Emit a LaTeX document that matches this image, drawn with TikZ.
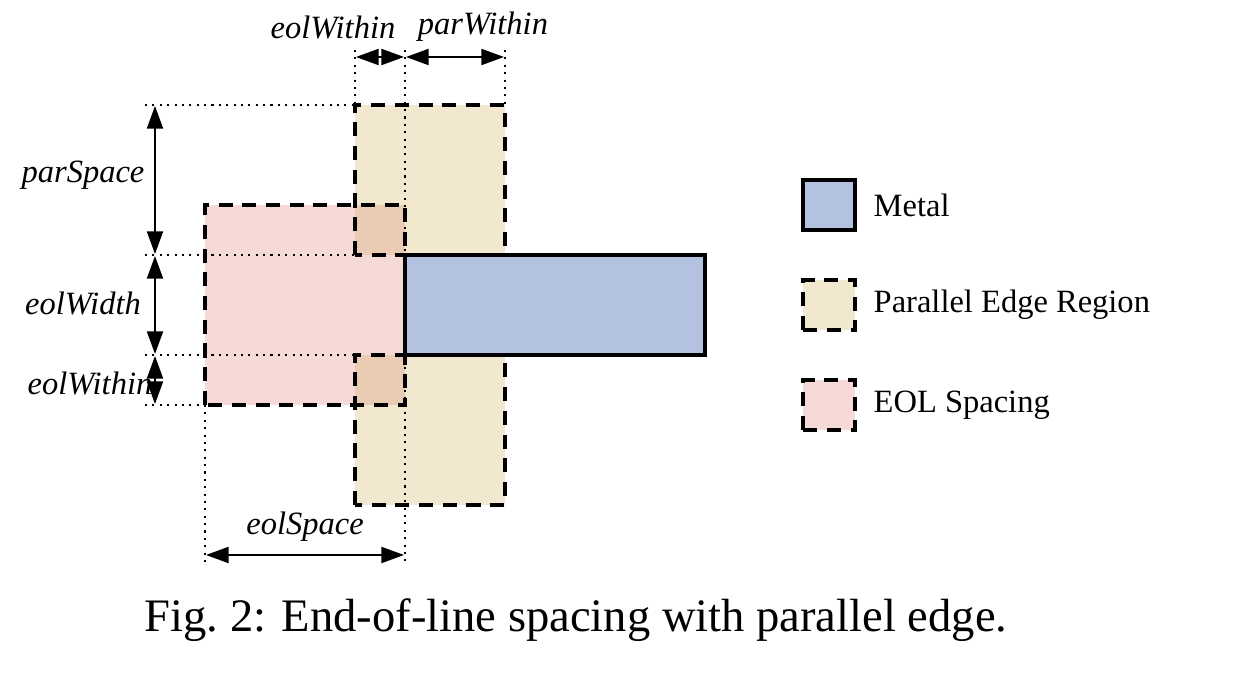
\documentclass[tikz,border=0pt]{standalone}
\usepackage{fontspec}
\setmainfont{Liberation Serif}
\usetikzlibrary{arrows.meta, calc}
\definecolor{metal-blue}{RGB}{178,194,224}
\definecolor{par-tan}{RGB}{242,232,208}
\definecolor{eol-pink}{RGB}{246,218,216}
\definecolor{overlap}{RGB}{234,204,180}

\begin{document}
\begin{tikzpicture}[thick]
  \tikzstyle{regionline} = [line width=1.9pt, dash pattern=on 8pt off 5.5pt]
  \tikzstyle{metalline} = [line width=1.8pt]
  \tikzstyle{guide} = [line width=0.7pt, dash pattern=on 1.2pt off 3pt]
  \tikzstyle{dimarrow} = [{Triangle[length=13pt,width=9pt]}-{Triangle[length=13pt,width=9pt]}, line width=1.6pt, shorten <=0.5pt, shorten >=0.5pt]
  \tikzstyle{dimlabel} = [font=\fontsize{18.5}{21}\selectfont\itshape, inner sep=1pt]
  \tikzstyle{legendtext} = [font=\fontsize{18.5}{21}\selectfont, anchor=west, inner sep=0pt]
  \useasboundingbox (-8.1,7.1) rectangle (16.86,-6.5);
  %Sizes of the shapes.
    \def\mlen{6}          %Length of the METAL.
    \def\mwid{2}          %Width of the METAL.
    \def\eolsp{4}         %eolSpace.
    \def\eolwn{1}         %eolWithin.
    \def\parwn{2}         %parWithin.
    \def\parsp{3}         %parSpace.
% Define coordinates.
    \coordinate (mlo) at (0,0);
    \coordinate (mhi) at (\mlen,\mwid);
    \coordinate (eollo) at (-\eolsp,-\eolwn);
    \coordinate (eolhi) at (0,{\mwid+\eolwn});
    \coordinate (partlo) at (-\eolwn,\mwid);
    \coordinate (parthi) at (\parwn,{\mwid+\parsp});
    \coordinate (parblo) at (-\eolwn,-\parsp);
    \coordinate (parbhi) at (\parwn,0);
% REGIONS
    \fill[eol-pink] (eollo) rectangle (eolhi);
    \fill[par-tan] (partlo) rectangle (parthi);
    \fill[par-tan] (parblo) rectangle (parbhi);
    \fill[overlap] (partlo) rectangle (eolhi);
    \fill[overlap] (-\eolwn,-\eolwn) rectangle (mlo);
% Guide lines.
    \draw[guide] (-1,6.1) -- (partlo |- parthi);
    \draw[guide] (0,6.1) -- (0,-4.2);
    \draw[guide] (2,6.1) -- (parthi);
    \draw[guide] (eollo) -- (-4,-4.2);
    \draw[guide] (-5.2,5) -- (-1,5);
    \draw[guide] (-5.2,2) -- (partlo);
    \draw[guide] (-5.2,0) -- (-1,0);
    \draw[guide] (-5.2,-1) -- (eollo);
    \draw[regionline] (eollo) rectangle (eolhi);
    \draw[regionline] (partlo) rectangle (parthi);
    \draw[regionline] (parblo) rectangle (parbhi);
% METAL
    \filldraw[metalline, fill=metal-blue] (mlo) rectangle (mhi);
% Dimension arrows.
    \coordinate (ps1) at (-5,5);
    \coordinate (ps2) at (-5,2);
    \coordinate (ps3) at (-5,0);
    \coordinate (ps4) at (-5,-1);
    \draw[dimarrow] (ps1) -- (ps2);
    \draw[dimarrow] (ps2) -- (ps3);
    \draw[dimarrow] (ps3) -- (ps4);
    \coordinate (tw1) at (-1,5.96);
    \coordinate (tw2) at (0,5.96);
    \coordinate (tw3) at (2,5.96);
    \draw[dimarrow] (tw1) -- (tw2);
    \draw[dimarrow] (tw2) -- (tw3);
    \coordinate (es1) at (-4,-4);
    \coordinate (es2) at (0,-4);
    \draw[dimarrow] (es1) -- (es2);
    \node[dimlabel] (parspace) at (-6.44,3.6) {parSpace};
    \node[dimlabel] (eolwidth) at (-6.44,1.04) {eolWidth};
    \node[dimlabel] (eolwithinl) at (-6.3,-0.56) {eolWithin};
    \node[dimlabel] (eolwithint) at (-1.44,6.56) {eolWithin};
    \node[dimlabel] (parwithin) at (1.56,6.56) {parWithin};
    \node[dimlabel] (eolspace) at (-2,-3.44) {eolSpace};
% Legend
    \filldraw[metalline, fill=metal-blue] (7.96,2.5) rectangle (9,3.5);
    \fill[par-tan] (7.96,0.5) rectangle (9,1.5);
    \draw[regionline] (7.96,0.5) rectangle (9,1.5);
    \fill[eol-pink] (7.96,-1.5) rectangle (9,-0.5);
    \draw[regionline] (7.96,-1.5) rectangle (9,-0.5);
    \node[legendtext] (lmetal) at (9.36,3) {Metal};
    \node[legendtext] (lpar) at (9.36,1) {Parallel Edge Region};
    \node[legendtext] (leol) at (9.36,-1) {EOL Spacing};
% Caption
    \node[font=\fontsize{26.5}{30}\selectfont] (caption) at (3.42,-5.3) {Fig.~2: End-of-line spacing with parallel edge.};
  \end{tikzpicture}
\end{document}
